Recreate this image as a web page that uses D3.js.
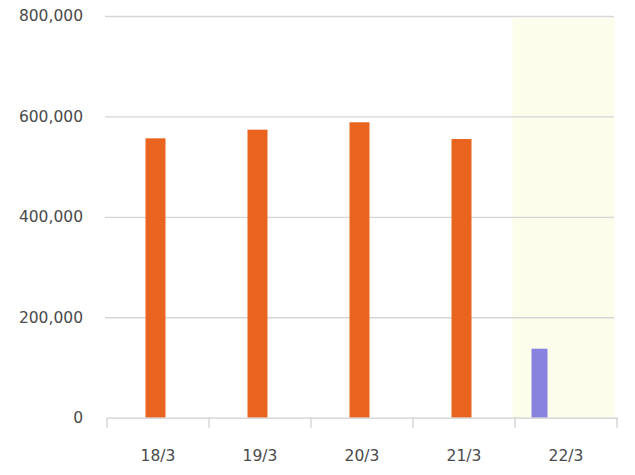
<!DOCTYPE html>
<html><head><meta charset="utf-8">
<script src="https://cdn.jsdelivr.net/npm/d3@7"></script>
<style>body{margin:0;background:#fff}svg{display:block}</style>
</head><body><svg id="c" width="635" height="475"></svg>
<script>
const categories = ["18/3","19/3","20/3","21/3","22/3"];
const seriesNames = ["forecast","actual","extra"];
const actualValues = [556400, 573600, 588300, 555000, null];
const forecastValues = [null, null, null, null, 137400];
const yTicks = [0, 200000, 400000, 600000, 800000];
const highlightCategory = "22/3";

(function(){
const svg = d3.select("#c");
const mLeft = 107, mRight = 617, mTop = 16, mBottom = 417.7;
const x0 = d3.scaleBand().domain(categories).range([mLeft, mRight]);
const bw = x0.bandwidth();
const x1 = d3.scaleBand().domain(seriesNames).range([bw/2 - 38.5, bw/2 + 33.5]);
const y = d3.scaleLinear().domain([0, 800000]).range([mBottom, mTop]);

// highlight
svg.append("rect")
  .attr("x", x0(highlightCategory) - 2.5).attr("y", y(800000) + 2)
  .attr("width", bw).attr("height", y(0) - y(800000) - 2)
  .attr("fill", "#fdfdec");

// gridlines
const yAxis = d3.axisLeft(y).tickValues(yTicks).tickSize(-(614 - 105)).tickFormat(d3.format(","));
const gy = svg.append("g").attr("transform", "translate(105,0)").call(yAxis);
gy.select(".domain").remove();
gy.selectAll(".tick line").attr("stroke", "#d6d6d6").attr("stroke-width", 1.3);
gy.selectAll(".tick text").attr("x", -22).attr("fill", "#4a4a4a")
  .style("font-family", "DejaVu Sans").style("font-size", "15.5px");
gy.selectAll(".tick").filter(d => d === 0).select("line").remove();

// bars
const data = categories.map((c, i) => ({c, actual: actualValues[i], forecast: forecastValues[i]}));
svg.append("g").selectAll("rect.a").data(data.filter(d => d.actual != null)).join("rect")
  .attr("x", d => x0(d.c) + x1("actual") + (x1.bandwidth() - 20)/2)
  .attr("width", 20)
  .attr("y", d => y(d.actual)).attr("height", d => y(0) - y(d.actual))
  .attr("fill", "#e8641f");
svg.append("g").selectAll("rect.f").data(data.filter(d => d.forecast != null)).join("rect")
  .attr("x", d => x0(d.c) + x1("forecast") + (x1.bandwidth() - 16)/2)
  .attr("width", 16)
  .attr("y", d => y(d.forecast)).attr("height", d => y(0) - y(d.forecast))
  .attr("fill", "#8783de");

// x axis
const xAxis = d3.axisBottom(x0).tickSize(0).tickPadding(32);
const gx = svg.append("g").attr("transform", `translate(0,${mBottom})`).call(xAxis);
gx.select(".domain").attr("stroke", "#cfcfcf").attr("stroke-width", 1.3);
gx.selectAll(".tick text").attr("fill", "#4a4a4a")
  .style("font-family", "DejaVu Sans").style("font-size", "15.5px");
const edges = categories.map(c => x0(c)).concat([mRight]);
gx.selectAll("line.edge").data(edges).join("line").attr("class","edge")
  .attr("x1", d => d).attr("x2", d => d).attr("y1", 0).attr("y2", 10)
  .attr("stroke", "#cfcfcf").attr("stroke-width", 1.3);
})();
</script></body></html>
